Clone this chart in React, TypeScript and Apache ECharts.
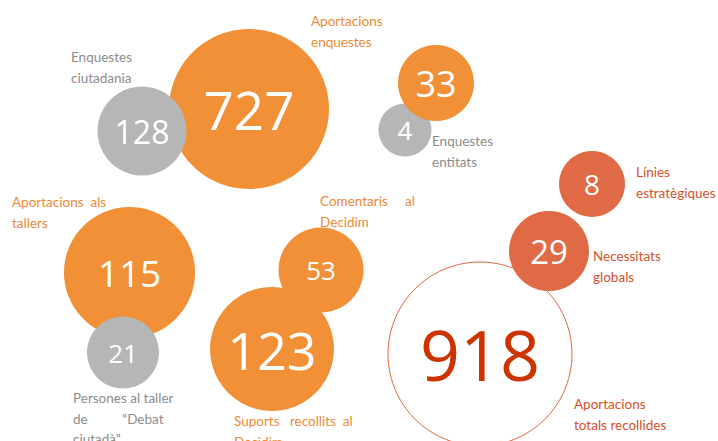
import React, { useEffect, useRef } from "react";
import * as echarts from "echarts";

// Data
const names = [
  "Aportacions enquestes",
  "Enquestes ciutadania",
  "Enquestes entitats",
  "Aportacions enquestes entitats",
  "Aportacions als tallers",
  "Persones al taller de “Debat ciutadà”",
  "Comentaris al Decidim",
  "Suports recollits al Decidim",
  "Aportacions totals recollides",
  "Necessitats globals",
  "Línies estratègiques",
];
const values = [727, 128, 4, 33, 115, 21, 53, 123, 918, 29, 8];
const groups = ["orange", "gray", "gray", "orange", "orange", "gray", "orange", "orange", "total", "red", "red"];

// Layout (pixel positions of bubble centres, radii, font sizes)
const cx = [249, 142, 405, 436, 129.5, 123, 321, 272, 480, 549, 592];
const cy = [109, 131, 130, 83, 272.5, 352.5, 270, 349, 354, 251, 184];
const radius = [80, 44.5, 26.5, 38, 65.5, 36, 42.5, 62, 92, 40, 33];
const fontSizes = [53, 32, 26, 36, 37, 26, 26, 52, 70, 33, 28];

const textLabels = [
  { text: "Aportacions\nenquestes", x: 311, y: 21, group: "orange" },
  { text: "Enquestes\nciutadania", x: 71, y: 57, group: "gray" },
  { text: "Enquestes\nentitats", x: 432, y: 141, group: "gray" },
  { text: "Línies\nestratègiques", x: 636, y: 172, group: "red" },
  { text: "Necessitats\nglobals", x: 593, y: 256, group: "red" },
  { text: "Aportacions  als\ntallers", x: 12, y: 202, group: "orange" },
  { text: "Comentaris     al\nDecidim", x: 320, y: 201, group: "orange" },
  { text: "Persones al taller\nde          “Debat\nciutadà”", x: 73, y: 398, group: "gray" },
  { text: "Suports   recollits  al\nDecidim", x: 234, y: 421, group: "orange" },
  { text: "Aportacions\ntotals recollides", x: 574, y: 404, group: "red" },
];

const fillColors: Record<string, string> = {
  orange: "#F19036",
  gray: "#B6B6B6",
  red: "#E06A45",
  total: "#FFFFFF",
};
const textColors: Record<string, string> = {
  orange: "#EC8A34",
  gray: "#8C8C8C",
  red: "#D4502B",
};

export default function App() {
  const ref = useRef<HTMLDivElement>(null);
  useEffect(() => {
    document.body.style.margin = "0";
    if (!ref.current) return;
    const chart = echarts.init(ref.current, undefined, { renderer: "svg" });
    const data = values.map((v, i) => ({
      name: names[i],
      value: [cx[i], cy[i], v],
      symbolSize: radius[i] * 2,
      itemStyle:
        groups[i] === "total"
          ? { color: "#FFFFFF", borderColor: "#E06A45", borderWidth: 1, opacity: 1 }
          : { color: fillColors[groups[i]], opacity: 1 },
      label: {
        show: true,
        position: "inside",
        formatter: String(v),
        fontSize: fontSizes[i],
        fontFamily: "Open Sans",
        color: groups[i] === "total" ? "#CC3300" : "#FFFFFF",
      },
    }));
    const lineH = 20.5;
    chart.setOption({
      animation: false,
      grid: { left: 0, right: 0, top: 0, bottom: 0 },
      xAxis: { type: "value", min: 0, max: 718, show: false },
      yAxis: { type: "value", min: 0, max: 441, inverse: true, show: false },
      series: [
        {
          type: "scatter",
          data,
          silent: true,
          itemStyle: { opacity: 1 },
          emphasis: { disabled: true },
        },
      ],
      graphic: textLabels.map((t) => ({
        type: "text",
        x: t.x,
        y: t.y - lineH / 2,
        style: {
          text: t.text,
          fill: textColors[t.group],
          font: "13.5px Lato",
          lineHeight: lineH,
          verticalAlign: "top",
        },
      })),
    });
    return () => chart.dispose();
  }, []);
  return <div ref={ref} style={{ width: 718, height: 441 }} />;
}
